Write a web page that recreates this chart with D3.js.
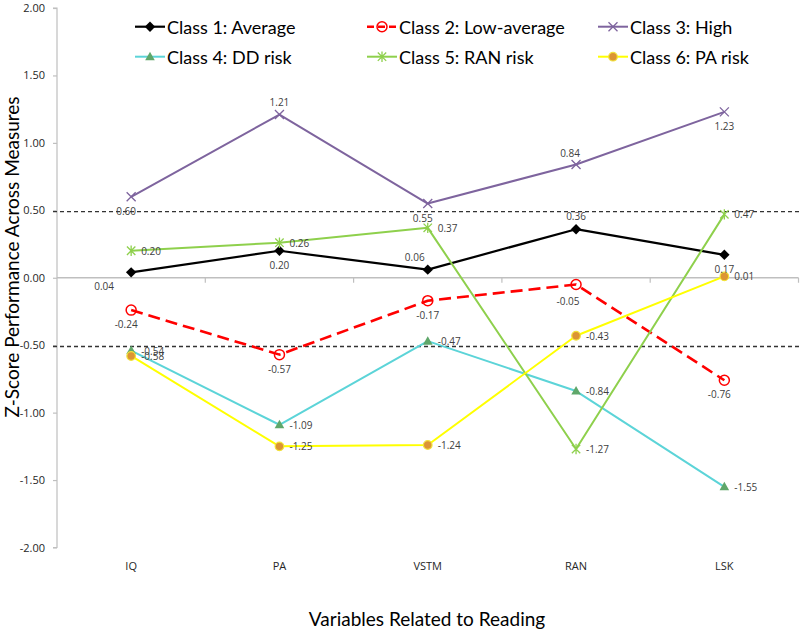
<!DOCTYPE html>
<html>
<head>
<meta charset="utf-8">
<script src="https://cdn.jsdelivr.net/npm/d3@7"></script>
<style>
  html, body { margin: 0; padding: 0; background: #fff; }
  svg { display: block; }
</style>
</head>
<body>
<svg id="chart" width="800" height="630"></svg>
<script>
// ---------- data ----------
const categories = ["IQ", "PA", "VSTM", "RAN", "LSK"];
const seriesNames = ["Class 1: Average", "Class 2: Low-average", "Class 3: High",
                     "Class 4: DD risk", "Class 5: RAN risk", "Class 6: PA risk"];
const class1 = [0.04, 0.20, 0.06, 0.36, 0.17];
const class2 = [-0.24, -0.57, -0.17, -0.05, -0.76];
const class3 = [0.60, 1.21, 0.55, 0.84, 1.23];
const class4 = [-0.54, -1.09, -0.47, -0.84, -1.55];
const class5 = [0.20, 0.26, 0.37, -1.27, 0.47];
const class6 = [-0.58, -1.25, -1.24, -0.43, 0.01];
const yTicks = [-2, -1.5, -1, -0.5, 0, 0.5, 1, 1.5, 2];
const refLines = [0.49, -0.51];
const xTitle = "Variables Related to Reading";
const yTitle = "Z-Score Performance Across Measures";

// label placement codes per series (style)
const labelPlacement = [
  ["bl", "b", "al", "a", "b"],
  ["bs", "b", "b", "bs2", "bs"],
  ["bs", "a", "bs", "as", "b"],
  ["r", "r", "r", "r", "r"],
  ["r", "r", "r", "r", "r"],
  ["r", "r", "r", "r", "r"]
];
const placeOffsets = {
  a:   {dx: 0,   dy: -13, anchor: "middle"},
  as:  {dx: -6,  dy: -11, anchor: "middle"},
  b:   {dx: 0,   dy: 14,  anchor: "middle"},
  bs:  {dx: -5,  dy: 14,  anchor: "middle"},
  bs2: {dx: -8,  dy: 17,  anchor: "middle"},
  bl:  {dx: -27, dy: 14,  anchor: "middle"},
  al:  {dx: -13, dy: -13, anchor: "middle"},
  r:   {dx: 10,  dy: 0,   anchor: "start"}
};

const allSeries = [class1, class2, class3, class4, class5, class6];
const styles = [
  {stroke: "#000000", width: 2.2, dash: null, marker: "diamond", fill: "#000000", mstroke: "#000000"},
  {stroke: "#FF0000", width: 2.6, dash: "12,6", marker: "ocircle", fill: "none", mstroke: "#FF0000"},
  {stroke: "#7E649E", width: 2, dash: null, marker: "x", fill: "none", mstroke: "#7E649E"},
  {stroke: "#5CD4D8", width: 2, dash: null, marker: "triangle", fill: "#5FA76A", mstroke: "#5FA76A"},
  {stroke: "#8ED04C", width: 2, dash: null, marker: "star", fill: "none", mstroke: "#8ED04C"},
  {stroke: "#FFFF00", width: 2, dash: null, marker: "circle", fill: "#DC9533", mstroke: "#F2E23A"}
];

const fmt = v => v.toFixed(2);

// ---------- layout ----------
const svg = d3.select("#chart");
const x0 = 57, x1 = 798.5, yTop = 8, yBot = 547.5;
const x = d3.scaleBand().domain(categories).range([x0, x1]).paddingInner(0).paddingOuter(0);
const cx = c => x(c) + x.bandwidth() / 2;
const y = d3.scaleLinear().domain([-2, 2]).range([yBot, yTop]);

const tickFont = "'Open Sans', 'Noto Sans', sans-serif";
const titleFont = "Lato, 'Open Sans', sans-serif";

// y axis
const yAxis = d3.axisLeft(y).tickValues(yTicks).tickFormat(fmt).tickSize(4).tickPadding(8);
const gy = svg.append("g").attr("transform", `translate(${x0},0)`).call(yAxis);
gy.select(".domain").attr("stroke", "#BFBFBF").attr("stroke-width", 1.2).attr("d", `M-4,${yTop}H0V${yBot}H-4`);
gy.selectAll(".tick line").attr("stroke", "#BFBFBF").attr("stroke-width", 1.2);
gy.selectAll(".tick text").attr("font-family", tickFont).attr("font-size", 11).attr("fill", "#262626");

// zero line (x axis) with category boundary ticks
const xAxis = d3.axisBottom(x).tickSize(0).tickFormat("");
const gx = svg.append("g").attr("transform", `translate(0,${y(0)})`).call(xAxis);
gx.select(".domain").attr("stroke", "#BFBFBF").attr("stroke-width", 1.5).attr("d", `M${x0},0H${x1}`);
gx.selectAll(".tick").remove();
gx.selectAll("line.bound").data(categories.slice(1).concat(["end"])).enter().append("line")
  .attr("class", "bound")
  .attr("x1", (d, i) => x0 + x.bandwidth() * (i + 1))
  .attr("x2", (d, i) => x0 + x.bandwidth() * (i + 1))
  .attr("y1", 0).attr("y2", 5)
  .attr("stroke", "#BFBFBF").attr("stroke-width", 1.2);

// category labels
svg.append("g").selectAll("text").data(categories).enter().append("text")
  .attr("x", d => cx(d)).attr("y", 565)
  .attr("text-anchor", "middle").attr("dominant-baseline", "central")
  .attr("font-family", tickFont).attr("font-size", 11).attr("fill", "#262626")
  .text(d => d);

// reference dashed lines
svg.append("g").selectAll("line").data(refLines).enter().append("line")
  .attr("x1", x0 - 4).attr("x2", 800)
  .attr("y1", d => y(d)).attr("y2", d => y(d))
  .attr("stroke", "#333").attr("stroke-width", 1.4).attr("stroke-dasharray", "4,3");

// titles
svg.append("text").attr("x", 427).attr("y", 618)
  .attr("text-anchor", "middle").attr("dominant-baseline", "central")
  .attr("font-family", titleFont).attr("font-size", 19).attr("fill", "#000")
  .text(xTitle);
svg.append("text").attr("transform", "translate(11,257) rotate(-90)")
  .attr("text-anchor", "middle").attr("dominant-baseline", "central")
  .attr("font-family", titleFont).attr("font-size", 19).attr("fill", "#000")
  .text(yTitle);

// marker drawing
function drawMarker(g, type, px, py, st) {
  if (type === "diamond") {
    g.append("path").attr("d", `M${px},${py - 5.2}L${px + 5.2},${py}L${px},${py + 5.2}L${px - 5.2},${py}Z`)
      .attr("fill", st.fill);
  } else if (type === "ocircle") {
    g.append("circle").attr("cx", px).attr("cy", py).attr("r", 5).attr("fill", "none")
      .attr("stroke", st.mstroke).attr("stroke-width", 1.5);
  } else if (type === "x") {
    const s = 4.5;
    g.append("path").attr("d", `M${px - s},${py - s}L${px + s},${py + s}M${px - s},${py + s}L${px + s},${py - s}`)
      .attr("stroke", st.mstroke).attr("stroke-width", 1.3).attr("fill", "none");
  } else if (type === "triangle") {
    g.append("path").attr("d", `M${px},${py - 5}L${px + 4.8},${py + 3.5}L${px - 4.8},${py + 3.5}Z`)
      .attr("fill", st.fill);
  } else if (type === "star") {
    const s = 4.2;
    g.append("path").attr("d", `M${px - s},${py - s}L${px + s},${py + s}M${px - s},${py + s}L${px + s},${py - s}M${px},${py - s - 1}L${px},${py + s + 1}`)
      .attr("stroke", st.mstroke).attr("stroke-width", 1.3).attr("fill", "none");
  } else if (type === "circle") {
    g.append("circle").attr("cx", px).attr("cy", py).attr("r", 4.3).attr("fill", st.fill)
      .attr("stroke", st.mstroke).attr("stroke-width", 1.2);
  }
}

// series lines and markers
const line = d3.line().x((d, i) => cx(categories[i])).y(d => y(d));
const seriesG = svg.append("g");
allSeries.forEach((vals, si) => {
  const st = styles[si];
  const g = seriesG.append("g");
  g.append("path").datum(vals).attr("d", line)
    .attr("fill", "none").attr("stroke", st.stroke).attr("stroke-width", st.width)
    .attr("stroke-dasharray", st.dash).attr("stroke-linejoin", "round");
  vals.forEach((v, i) => drawMarker(g, st.marker, cx(categories[i]), y(v), st));
});

// data labels
const labelG = svg.append("g");
allSeries.forEach((vals, si) => {
  vals.forEach((v, i) => {
    const p = placeOffsets[labelPlacement[si][i]];
    labelG.append("text")
      .attr("x", cx(categories[i]) + p.dx).attr("y", y(v) + p.dy)
      .attr("text-anchor", p.anchor).attr("dominant-baseline", "central")
      .attr("font-family", tickFont).attr("font-size", 10).attr("fill", "#404040")
      .text(fmt(v));
  });
});

// legend
const legendCols = [135, 367, 598];
const legendRows = [26.7, 56.7];
const legG = svg.append("g");
seriesNames.forEach((name, si) => {
  const lx = legendCols[si % 3], ly = legendRows[Math.floor(si / 3)];
  const st = styles[si];
  const g = legG.append("g");
  g.append("line").attr("x1", lx).attr("x2", lx + 30).attr("y1", ly).attr("y2", ly)
    .attr("stroke", st.stroke).attr("stroke-width", st.width).attr("stroke-dasharray", st.dash ? "7,4" : null);
  drawMarker(g, st.marker, lx + 15, ly, st);
  g.append("text").attr("x", lx + 32).attr("y", ly)
    .attr("dominant-baseline", "central")
    .attr("font-family", titleFont).attr("font-size", 18).attr("fill", "#000")
    .text(name);
});
</script>
</body>
</html>
